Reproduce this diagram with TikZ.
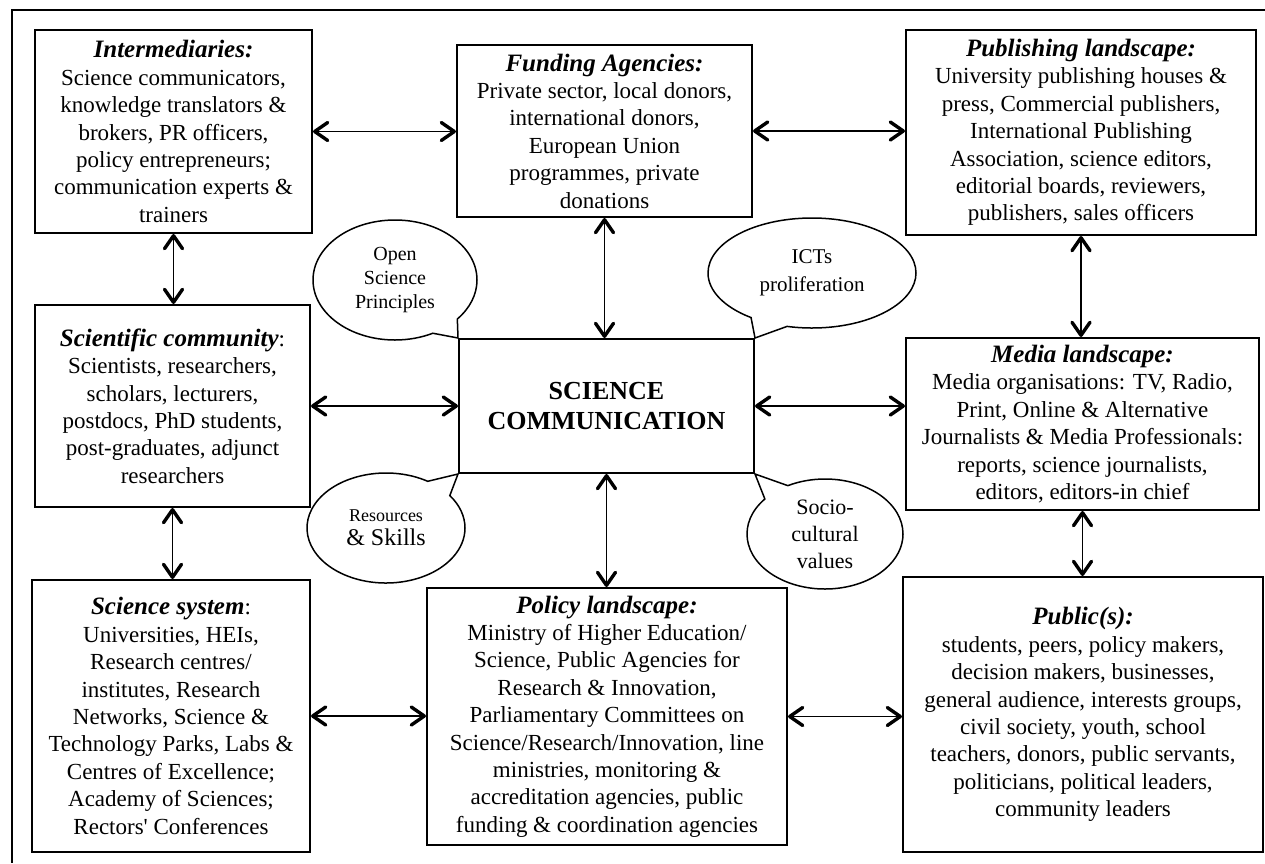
\documentclass[tikz,border=0pt]{standalone}
\usepackage{fontspec}
\setmainfont{Liberation Serif}
\newfontfamily\rawserif{Liberation Serif}[Ligatures=TeXOff]
\usetikzlibrary{arrows.meta,shapes.callouts,calc}
\tikzset{
  box/.style={draw, line width=2pt, inner sep=0pt, align=center,
    font=\fontsize{23}{27.4}\selectfont},
  tipbarb/.tip={Straight Barb[length=13pt,width=18pt,line width=3.4pt,round]},
  arr/.style={line width=1.8pt, tipbarb-tipbarb},
  bubble/.style={ellipse callout, draw, line width=1.5pt, fill=white,
    inner sep=0pt, align=center, callout pointer arc=22},
}
\newcommand{\hd}[1]{{\fontsize{25}{27.4}\selectfont\bfseries\itshape #1}}
\begin{document}
\begin{tikzpicture}[x=1pt,y=-1pt]
\useasboundingbox (0,0) rectangle (1265,863);
\draw[line width=2pt] (1265,10) -- (12,10) -- (12,863);

\node[box, minimum width=277pt, minimum height=203pt] (inter) at (173.5,131.5)
 {\hd{Intermediaries:}\\Science communicators,\\knowledge translators \&\\brokers, PR officers,\\policy entrepreneurs;\\communication experts \&\\trainers};
\node[box, minimum width=295pt, minimum height=172pt] (fund) at (604.5,131)
 {\hd{Funding Agencies:}\\Private sector, local donors,\\international donors,\\European Union\\programmes, private\\donations};
\node[box, minimum width=350pt, minimum height=205pt] (publ) at (1081,132.5)
 {\hd{Publishing landscape:}\\University publishing houses \&\\press, Commercial publishers,\\International Publishing\\Association, science editors,\\editorial boards, reviewers,\\publishers, sales officers};
\node[box, minimum width=275pt, minimum height=202pt] (scicom) at (172.5,406)
 {\hd{Scientific community}:\\Scientists, researchers,\\scholars, lecturers,\\postdocs, PhD students,\\post-graduates, adjunct\\researchers};
\node[box, minimum width=295pt, minimum height=134pt, font=\fontsize{26}{29.5}\selectfont\bfseries] (sc) at (606.5,406)
 {SCIENCE\\COMMUNICATION};
\node[box, minimum width=353pt, minimum height=172pt] (media) at (1082.5,424)
 {\hd{Media landscape:}\\Media organisations: TV, Radio,\\Print, Online \& Alternative\\Journalists \& Media Professionals:\\reports, science journalists,\\editors, editors-in chief};
\node[box, minimum width=278pt, minimum height=272pt] (sys) at (171,716)
 {\hd{Science system}:\\Universities, HEIs,\\Research centres/\\institutes, Research\\Networks, Science \&\\Technology Parks, Labs \&\\Centres of Excellence;\\Academy of Sciences;\\Rectors{\rawserif '} Conferences};
\node[box, minimum width=360pt, minimum height=257pt] (pol) at (607,716.5)
 {\hd{Policy landscape:}\\Ministry of Higher Education/\\Science, Public Agencies for\\Research \& Innovation,\\Parliamentary Committees on\\Science/Research/Innovation, line\\ministries, monitoring \&\\accreditation agencies, public\\funding \& coordination agencies};
\node[box, minimum width=360pt, minimum height=275pt] (public) at (1083,714.5)
 {\hd{Public(s):}\\students, peers, policy makers,\\decision makers, businesses,\\general audience, interests groups,\\civil society, youth, school\\teachers, donors, public servants,\\politicians, political leaders,\\community leaders};

\draw[arr] (inter.east) -- (inter.east -| fund.west);
\draw[arr] (fund.east) -- (fund.east -| publ.west);
\draw[arr] (inter.south) -- (inter.south |- scicom.north);
\draw[arr] (fund.south) -- (fund.south |- sc.north);
\draw[arr] (publ.south) -- (publ.south |- media.north);
\draw[arr] (scicom.east) -- (scicom.east -| sc.west);
\draw[arr] (sc.east) -- (sc.east -| media.west);
\draw[arr] (scicom.south) -- (scicom.south |- sys.north);
\draw[arr] (sc.south) -- (sc.south |- pol.north);
\draw[arr] (media.south) -- (media.south |- public.north);
\draw[arr] (sys.east) -- (sys.east -| pol.west);
\draw[arr] (pol.east) -- (pol.east -| public.west);

\node[bubble, minimum width=164pt, minimum height=120pt,
  font=\fontsize{20}{24}\selectfont,
  callout absolute pointer={(sc.north west)}] (osp) at (395,280)
 {Open\\Science\\Principles};
\node[bubble, minimum width=208pt, minimum height=110pt,
  font=\fontsize{21}{28}\selectfont,
  callout absolute pointer={(sc.north east)}] (ict) at (812,273)
 {ICTs\\proliferation};
\node[bubble, minimum width=158pt, minimum height=110pt,
  font=\fontsize{24}{24}\selectfont,
  callout absolute pointer={(sc.south west)}] (res) at (386,528)
 {{\fontsize{18}{20}\selectfont Resources}\\\& Skills};
\node[bubble, minimum width=156pt, minimum height=110pt,
  font=\fontsize{22}{27}\selectfont,
  callout absolute pointer={(sc.south east)}] (soc) at (825,534)
 {Socio-\\cultural\\values};
\end{tikzpicture}
\end{document}
